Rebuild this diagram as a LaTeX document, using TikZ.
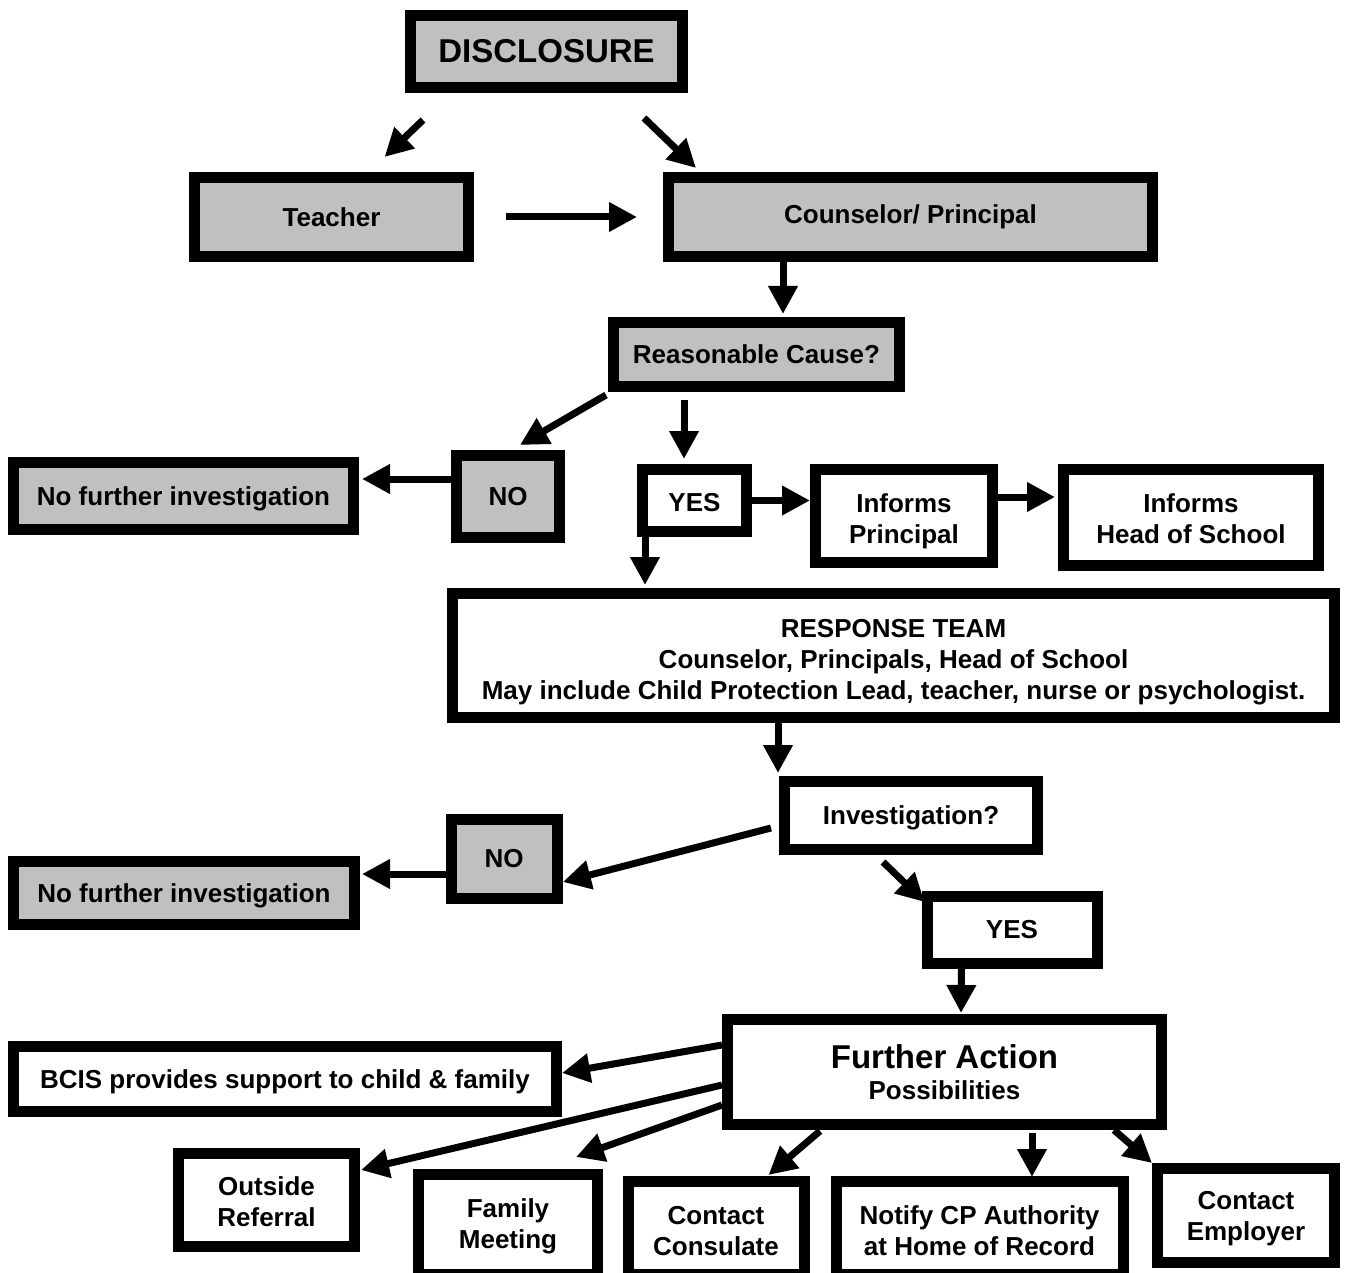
\documentclass[tikz,border=0pt]{standalone}
\usepackage{fontspec}
\setmainfont{Liberation Sans}
\usetikzlibrary{arrows.meta,calc}
\definecolor{boxgray}{RGB}{192,192,192}
\begin{document}
\begin{tikzpicture}[x=1pt,y=-1pt,
  box/.style={draw=black, line width=11pt, fill=white, inner sep=0pt, align=center,
    font=\bfseries\fontsize{26}{31}\selectfont},
  gbox/.style={box, fill=boxgray},
  arr/.style={line width=7pt, -{Triangle[length=28pt,width=28pt]}}]
\useasboundingbox (0,0) rectangle (1347,1273);
\clip (0,0) rectangle (1347,1273);

% nodes
\node[gbox, minimum width=272, minimum height=72, font=\bfseries\fontsize{33}{36}\selectfont] (disc) at (546.5,51.5) {DISCLOSURE};
\node[gbox, minimum width=274, minimum height=79] (teacher) at (331.5,217) {Teacher};
\node[gbox, minimum width=484, minimum height=79] (couns) at (910.5,217) {Counselor/ Principal};
\node[gbox, minimum width=286, minimum height=64] (reason) at (756.5,354.5) {Reasonable Cause?};
\node[gbox, minimum width=103, minimum height=82] (no1) at (508,496.5) {NO};
\node[gbox, minimum width=340, minimum height=67] (nfi1) at (183.5,496) {\rule{0pt}{24pt}No further investigation};
\node[box, minimum width=104, minimum height=62] (yes1) at (694.5,500.5) {\rule{0pt}{22pt}YES};
\node[box, minimum width=177, minimum height=93] (infp) at (904,516) {\rule{0pt}{30pt}Informs\\Principal};
\node[box, minimum width=255, minimum height=96] (infh) at (1191,517.5) {\rule{0pt}{22pt}Informs\\Head of School};
\node[box, minimum width=882, minimum height=124] (resp) at (893.5,655.5) {\rule{0pt}{31pt}RESPONSE TEAM\\Counselor, Principals, Head of School\\May include Child Protection Lead, teacher, nurse or psychologist.};
\node[box, minimum width=253, minimum height=68] (inv) at (911,815.5) {\rule{0pt}{23pt}Investigation?};
\node[gbox, minimum width=106, minimum height=79] (no2) at (504,859) {NO};
\node[gbox, minimum width=341, minimum height=63] (nfi2) at (184,893) {\rule{0pt}{24pt}No further investigation};
\node[box, minimum width=170, minimum height=67] (yes2) at (1012,930) {YES};
\node[box, minimum width=434, minimum height=105] (further) at (944.5,1072) {{\fontsize{33}{36}\selectfont Further Action}\\Possibilities};
\node[box, minimum width=543, minimum height=65] (bcis) at (285,1079) {\rule{0pt}{24pt}BCIS provides support to child \& family};
\node[box, minimum width=176, minimum height=93] (outside) at (266.5,1200) {\rule{0pt}{23pt}Outside\\Referral};
\node[box, minimum width=179, minimum height=100] (family) at (508,1224.5) {\rule{0pt}{23pt}Family\\Meeting};
\node[box, minimum width=176, minimum height=93] (consul) at (716,1228) {\rule{0pt}{24pt}Contact\\Consulate};
\node[box, minimum width=287, minimum height=93] (notify) at (979.5,1228) {\rule{0pt}{24pt}Notify CP Authority\\at Home of Record};
\node[box, minimum width=177, minimum height=94] (employer) at (1246,1215.5) {\rule{0pt}{25pt}Contact\\Employer};

% connectors
\draw[arr] ($(disc.south west)+(18,27)$) -- ($(teacher.north)+(53,-15)$);
\draw[arr] ($(disc.south east)+(-44,25)$) -- ($(couns.north west)+(33,-4)$);
\draw[arr, shorten <=32pt] (teacher.east) -- ($(couns.west)+(-26,0)$);
\draw[arr] ($(couns.south west)+(120,0)$) -- ($(reason.north west)+(175,-3)$);
\draw[arr] ($(reason.south west)+(-2,3)$) -- ($(no1.north west)+(69,-5)$);
\draw[arr] ($(reason.south west)+(76,8)$) -- ($(yes1.north west)+(47,-5)$);
\draw[arr] ($(no1.west)+(0,-17.5)$) -- ($(nfi1.east)+(3,-17)$);
\draw[arr] (yes1.east) -- (infp.west |- yes1.east);
\draw[arr] ($(infp.east)+(0,-19)$) -- ($(infh.west)+(-3,-20.5)$);
\draw[arr] ($(yes1.south west)+(8,0)$) -- ($(resp.north west)+(198,-3)$);
\draw[arr] ($(resp.south west)+(331,0)$) -- ($(inv.north west)+(-1,-3)$);
\draw[arr] ($(inv.west)+(-8,12.5)$) -- ($(no2.east)+(0.3,23)$);
\draw[arr] ($(no2.west)+(0,15)$) -- ($(nfi2.east)+(2,-19)$);
\draw[arr] ($(inv.south west)+(104,7)$) -- ($(yes2.north west)+(3,11)$);
\draw[arr] ($(yes2.south west)+(40,0)$) -- ($(further.north west)+(239,-1)$);
\draw[arr] ($(further.north west)+(0,31)$) -- ($(bcis.east)+(0,-6)$);
\draw[arr] ($(further.north west)+(0,71)$) -- ($(outside.north east)+(1,22)$);
\draw[arr] ($(further.north west)+(0,91)$) -- ($(family.north west)+(163,-12)$);
\draw[arr] ($(further.south west)+(98,1)$) -- ($(consul.north west)+(146,-1)$);
\draw[arr] ($(further.south west)+(310,3)$) -- ($(notify.north west)+(201.5,1)$);
\draw[arr] ($(further.south west)+(392,0)$) -- (employer.north west);
\end{tikzpicture}
\end{document}
